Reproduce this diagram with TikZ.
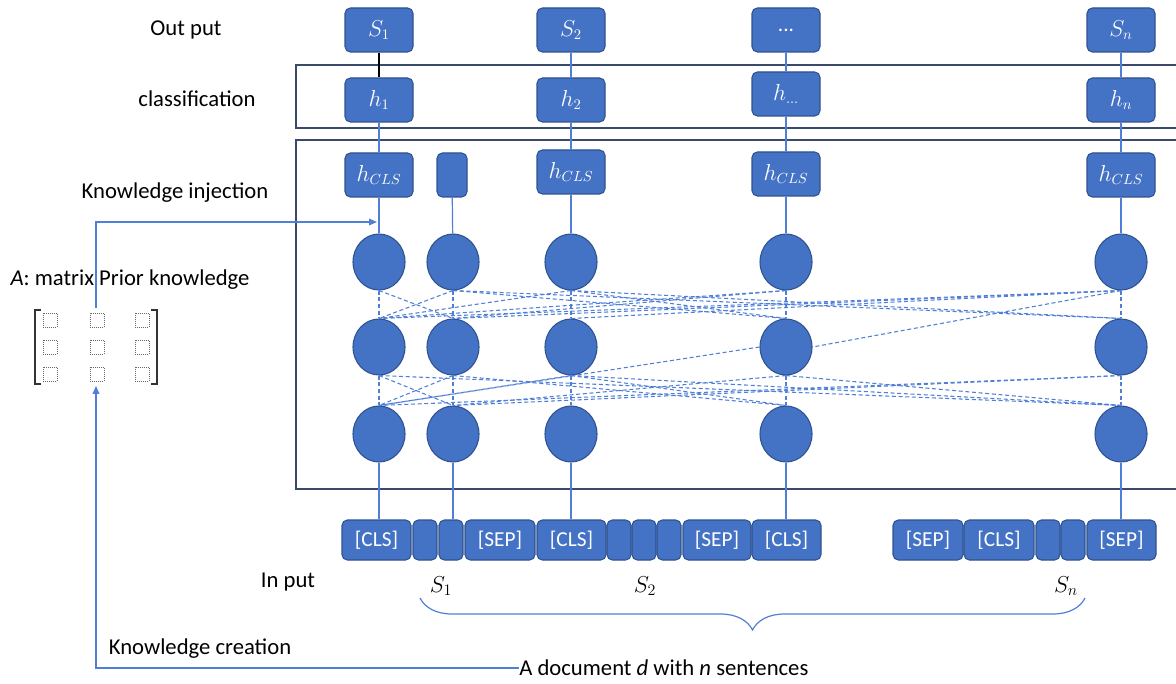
\documentclass[tikz,border=0pt]{standalone}
\usepackage{fontspec}
\setmainfont{Carlito}
\usetikzlibrary{shapes.geometric,decorations.pathreplacing,arrows.meta}
\definecolor{boxfill}{HTML}{4472C4}
\definecolor{boxedge}{HTML}{2F528F}
\definecolor{linkc}{HTML}{4F7FD6}
\definecolor{framec}{HTML}{3B4A6B}
\begin{document}
\begin{tikzpicture}[x=0.75pt,y=-0.75pt,
  font=\fontsize{17}{20}\selectfont,
  blk/.style={draw=boxedge, fill=boxfill, rounded corners=4pt, text=white,
    minimum width=51pt, minimum height=33pt, inner sep=0pt, line width=0.8pt,
    font=\fontsize{16}{19}\selectfont},
  tok/.style={draw=boxedge, fill=boxfill, rounded corners=4pt, text=white,
    minimum height=30pt, inner sep=0pt, line width=0.8pt,
    font=\fontsize{16}{19}\selectfont},
  neuron/.style={ellipse, draw=boxedge, fill=boxfill, line width=0.8pt,
    minimum width=39pt, minimum height=42pt, inner sep=0pt},
  link/.style={draw=linkc, line width=0.9pt},
  dlink/.style={draw=linkc, line width=0.8pt, dash pattern=on 3pt off 2pt},
  frm/.style={draw=framec, line width=1.1pt},
  lbl/.style={text=black, inner sep=0pt},
  sq/.style={draw=gray!80!black, densely dotted, line width=0.5pt}
]
\useasboundingbox (0,0) rectangle (1176,684);

% frames
\draw[frm] (1180,65) -- (296,65) -- (296,128) -- (1180,128);
\draw[frm] (1180,140) -- (296,140) -- (296,489) -- (1180,489);

% output row
\node[blk] (S1) at (379,30) {$S_1$};
\node[blk] (S2) at (571,30) {$S_2$};
\node[blk] (S3) at (786,30) {...};
\node[blk] (Sn) at (1121,30) {$S_n$};

% classification row
\node[blk] (h1) at (379,100) {$h_1$};
\node[blk] (h2) at (571,100) {$h_2$};
\node[blk] (h3) at (786,94) {$h_{\ldots}$};
\node[blk] (hn) at (1121,100) {$h_n$};

% CLS row
\node[blk] (c1) at (379,175) {$h_{CLS}$};
\node[blk, minimum width=22.5pt] (cx) at (452,175) {};
\node[blk] (c3) at (571,172) {$h_{CLS}$};
\node[blk] (c4) at (786,174) {$h_{CLS}$};
\node[blk] (cn) at (1121,175) {$h_{CLS}$};

% neurons
\foreach \c/\x in {1/379,2/453,3/571,4/786,5/1121}{
  \node[neuron] (n\c1) at (\x,262) {};
  \node[neuron] (n\c2) at (\x,347) {};
  \node[neuron] (n\c3) at (\x,434) {};
}

% tokens
\node[tok, minimum width=51.75pt] (t1) at (376.5,540) {[CLS]};
\node[tok, minimum width=18pt] (t2) at (425,540) {};
\node[tok, minimum width=18pt] (t3) at (451,540) {};
\node[tok, minimum width=52.5pt] (t4) at (500,540) {[SEP]};
\node[tok, minimum width=51.75pt] (t5) at (571.5,540) {[CLS]};
\node[tok, minimum width=18pt] (t6) at (619,540) {};
\node[tok, minimum width=18pt] (t7) at (644,540) {};
\node[tok, minimum width=18pt] (t8) at (669,540) {};
\node[tok, minimum width=51pt] (t9) at (717,540) {[SEP]};
\node[tok, minimum width=51.75pt] (t10) at (786.5,540) {[CLS]};
\node[tok, minimum width=52.5pt] (t11) at (928,540) {[SEP]};
\node[tok, minimum width=52.5pt] (t12) at (999,540) {[CLS]};
\node[tok, minimum width=18pt] (t13) at (1048,540) {};
\node[tok, minimum width=18pt] (t14) at (1073,540) {};
\node[tok, minimum width=51.75pt] (t15) at (1121.5,540) {[SEP]};

% solid vertical links
\draw[line width=0.8pt, black] (S1) -- (h1);
\draw[link] (S2) -- (h2);
\draw[link] (S3) -- (h3);
\draw[link] (Sn) -- (hn);
\draw[link] (h1) -- (c1);
\draw[link] (h2) -- (c3);
\draw[link] (h3) -- (c4);
\draw[link] (hn) -- (cn);
\draw[link] (c1) -- (n11);
\draw[link] (cx) -- (n21);
\draw[link] (c3) -- (n31);
\draw[link] (c4) -- (n41);
\draw[link] (cn) -- (n51);
\draw[link] (n13.south) -- (n13.south |- t1.north);
\draw[link] (n23.south) -- (n23.south |- t3.north);
\draw[link] (n33.south) -- (n33.south |- t5.north);
\draw[link] (n43.south) -- (n43.south |- t10.north);
\draw[link] (n53.south) -- (n53.south |- t15.north);

% dashed links layer 1 -> 2
\foreach \c in {1,...,5}{
  \draw[dlink] (n\c1.south) -- (n\c2.north);
  \draw[dlink] (n\c2.south) -- (n\c3.north);
}
\foreach \a/\b in {11/22,21/12,31/12,41/12,51/12,21/42,21/52,31/52,51/22,51/32,41/22,31/42}{
  \draw[dlink] (n\a.south) -- (n\b.north);
}
\draw[dlink] (n51.south) -- (n42.east);
% dashed links layer 2 -> 3
\foreach \a/\b in {12/23,22/13,32/13,52/13,22/43,32/53,52/23,42/23,12/53,32/43,42/53}{
  \draw[dlink] (n\a.south) -- (n\b.north);
}
\draw[dlink] (n42.west) -- (n13.north);

% matrix
\node[minimum width=93pt, minimum height=58pt, inner sep=0pt] (mat) at (96,347) {};
\draw[line width=1.5pt, black!80] (41,310) -- (35,310) -- (35,384) -- (41,384);
\draw[line width=1.5pt, black!80] (151,310) -- (157,310) -- (157,384) -- (151,384);
\foreach \x in {50,97,142}{
  \foreach \y in {320,347,374}{
    \draw[sq] (\x-7,\y-7) rectangle (\x+7,\y+7);
  }
}

% labels
\node[lbl] (lout) at (186,30) {Out put};
\node[lbl] (lcls) at (197,99) {classification};
\node[lbl] (linj) at (175,193) {Knowledge injection};
\node[lbl] (lmat) at (130,280) {\textit{A}: matrix Prior knowledge};
\node[lbl] (lin) at (288,582) {In put};
\node[lbl] (ls1) at (441,586) {$S_1$};
\node[lbl] (ls2) at (645,586) {$S_2$};
\node[lbl] (lsn) at (1066,586) {$S_n$};
\node[lbl] (lcre) at (200,649) {Knowledge creation};
\node[lbl, anchor=west] (ldoc) at (519,668) {A document \textit{d} with \textit{n} sentences};

% knowledge injection arrow
\coordinate (inj) at (377,222);
\draw[link, -{Triangle[length=6pt,width=5pt]}] (mat.north) -- (96,222) -- (inj);
% knowledge creation arrow
\draw[link, -{Triangle[length=6pt,width=5pt]}] (ldoc.west) -- (96,668) -- (mat.south);

% brace
\coordinate (bl) at (420,598);
\coordinate (br) at (1085,598);
\draw[link, decorate, decoration={brace, mirror, amplitude=24pt}] (bl) -- (br);
\end{tikzpicture}
\end{document}
